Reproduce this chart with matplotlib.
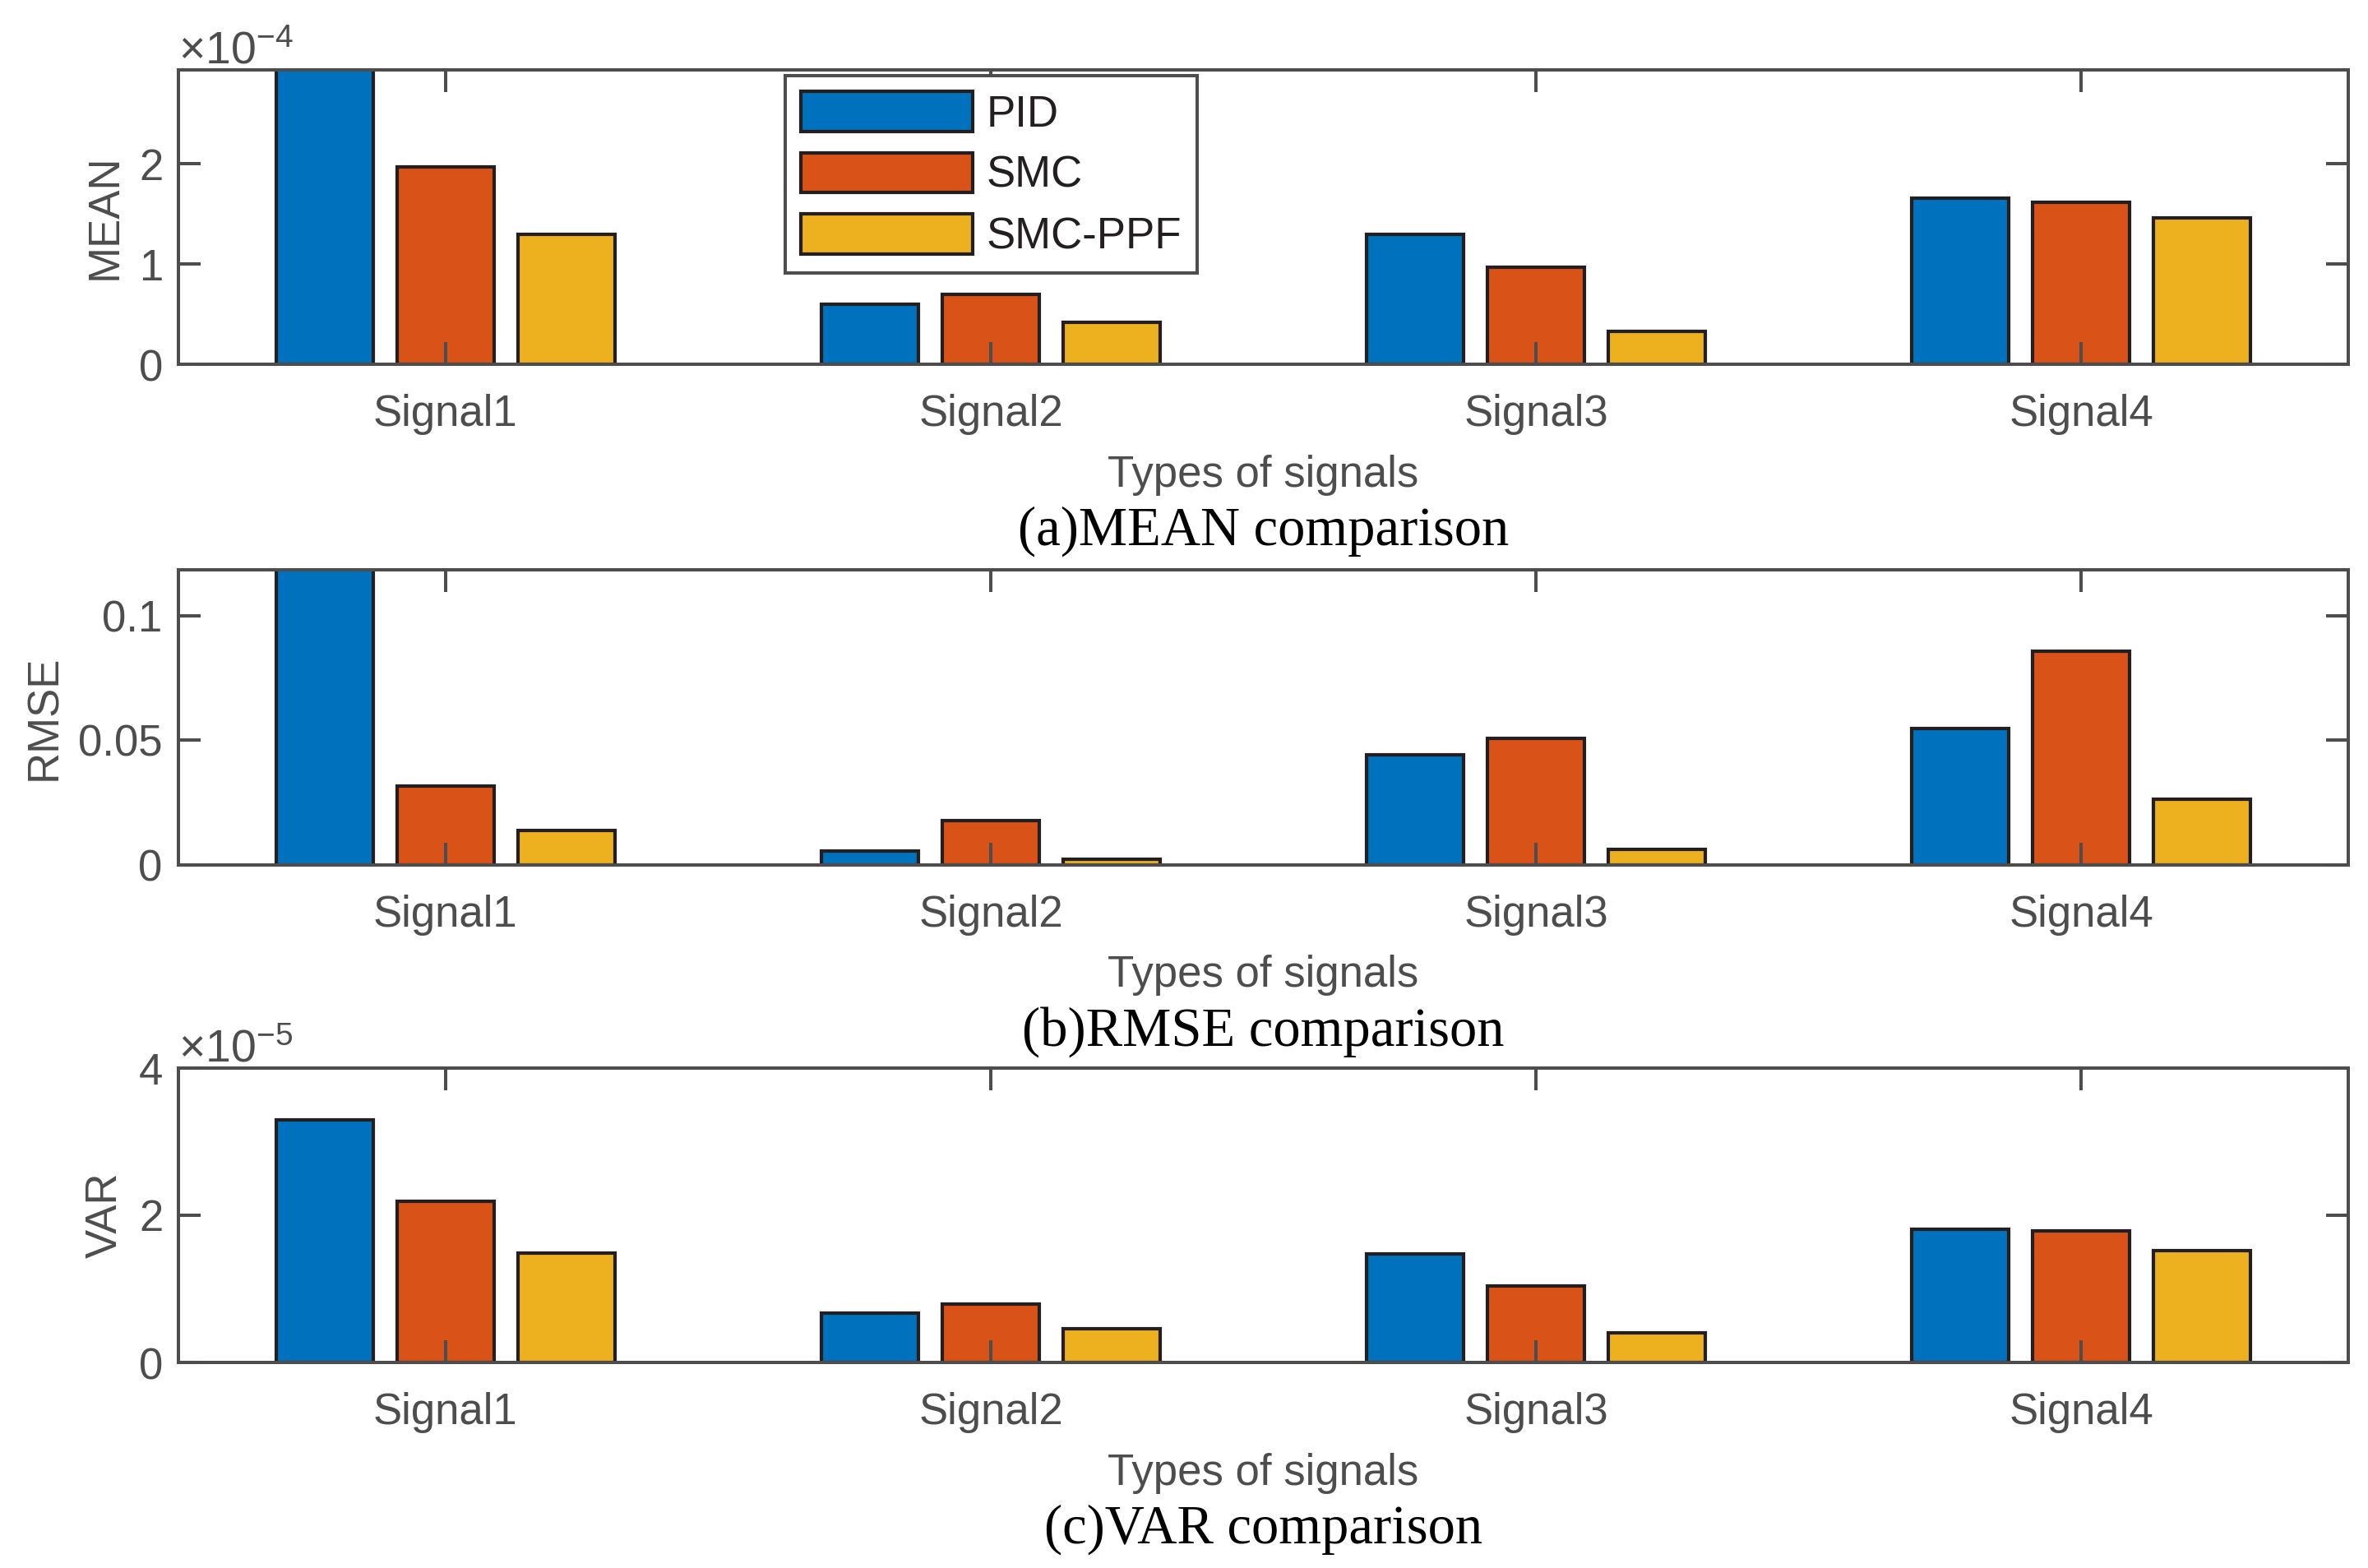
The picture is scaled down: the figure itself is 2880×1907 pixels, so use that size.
import numpy as np
import matplotlib
matplotlib.use("Agg")
import matplotlib.pyplot as plt
from matplotlib.ticker import ScalarFormatter, FormatStrFormatter

plt.rcParams['font.family'] = ['Liberation Sans', 'DejaVu Sans']
plt.rcParams['mathtext.fontset'] = 'custom'
plt.rcParams['mathtext.rm'] = 'Liberation Sans'
plt.rcParams['mathtext.it'] = 'Liberation Sans'
plt.rcParams['axes.unicode_minus'] = False

# data
signals = ['Signal1', 'Signal2', 'Signal3', 'Signal4']
methods = ['PID', 'SMC', 'SMC-PPF']
colors = ['#0072BD', '#D95319', '#EDB120']

mean_pid = [3.30e-4, 0.60e-4, 1.30e-4, 1.66e-4]
mean_smc = [1.97e-4, 0.70e-4, 0.97e-4, 1.615e-4]
mean_ppf = [1.30e-4, 0.42e-4, 0.33e-4, 1.465e-4]

rmse_pid = [0.130, 0.0056, 0.0442, 0.0548]
rmse_smc = [0.0316, 0.0179, 0.0508, 0.0859]
rmse_ppf = [0.0138, 0.0023, 0.0062, 0.0262]

var_pid = [3.30e-5, 0.67e-5, 1.47e-5, 1.81e-5]
var_smc = [2.19e-5, 0.79e-5, 1.04e-5, 1.785e-5]
var_ppf = [1.485e-5, 0.46e-5, 0.40e-5, 1.52e-5]

mean_ticks = [0, 1e-4, 2e-4]
rmse_ticks = [0, 0.05, 0.1]
var_ticks = [0, 2e-5, 4e-5]

gray = '#4d4d4d'
edge = '#231f20'

fig = plt.figure(figsize=(14.4, 9.535), dpi=200)

panels = [
    # rect, series, ylabel, ylim, ticks, caption
    ([0.0753, 0.7677, 0.9164, 0.1877], [mean_pid, mean_smc, mean_ppf], 'MEAN', 2.94e-4, mean_ticks, '(a)MEAN comparison'),
    ([0.0753, 0.4485, 0.9164, 0.1881], [rmse_pid, rmse_smc, rmse_ppf], 'RMSE', 0.1185, rmse_ticks, '(b)RMSE comparison'),
    ([0.0753, 0.1312, 0.9164, 0.1876], [var_pid, var_smc, var_ppf], 'VAR', 4e-5, var_ticks, '(c)VAR comparison'),
]

x = np.arange(1, len(signals) + 1)
offsets = [-0.222, 0.0, 0.222]
width = 0.178

axes = []
for i, (rect, series, ylab, ytop, yt, cap) in enumerate(panels):
    ax = fig.add_axes(rect)
    axes.append(ax)
    for vals, off, c, name in zip(series, offsets, colors, methods):
        ax.bar(x + off, vals, width, color=c, edgecolor=edge, linewidth=1.5, label=name)
    ax.set_xlim(0.51, 4.49)
    ax.set_ylim(0, ytop)
    ax.set_xticks(x)
    ax.set_xticklabels(signals)
    ax.set_yticks(yt)
    if ylab == 'RMSE':
        ax.yaxis.set_major_formatter(FormatStrFormatter('%g'))
    else:
        fmt = ScalarFormatter(useMathText=True)
        fmt.set_powerlimits((-3, 3))
        ax.yaxis.set_major_formatter(fmt)
        ax.yaxis.get_offset_text().set_fontsize(20)
        ax.yaxis.get_offset_text().set_color(gray)
    for s in ax.spines.values():
        s.set_linewidth(1.45)
        s.set_color(gray)
    ax.tick_params(axis='both', direction='in', length=9.6, width=1.45, color=gray,
                   labelcolor=gray, labelsize=19, top=True, right=True)
    ax.tick_params(axis='x', pad=13)
    ax.tick_params(axis='y', pad=7)
    ax.set_ylabel(ylab, fontsize=19, color=gray, labelpad=5.5)
    ax.set_xlabel('Types of signals', fontsize=19, color=gray, labelpad=8.5)
    ax.annotate(cap, xy=(0.5, 0), xycoords='axes fraction', xytext=(0, -79),
                textcoords='offset points', ha='center', va='baseline',
                fontsize=24, family=['Liberation Serif', 'DejaVu Serif'], color='black')

leg = axes[0].legend(loc='upper left', bbox_to_anchor=(0.2797, 0.98), fontsize=19,
                     handlelength=3.95, handleheight=1.04, labelspacing=0.4,
                     handletextpad=0.32, borderpad=0.36, borderaxespad=0,
                     fancybox=False, framealpha=1)
leg.get_frame().set_edgecolor(gray)
leg.get_frame().set_linewidth(1.45)
for t in leg.get_texts():
    t.set_color(edge)

fig.savefig('out.png', dpi=200)
